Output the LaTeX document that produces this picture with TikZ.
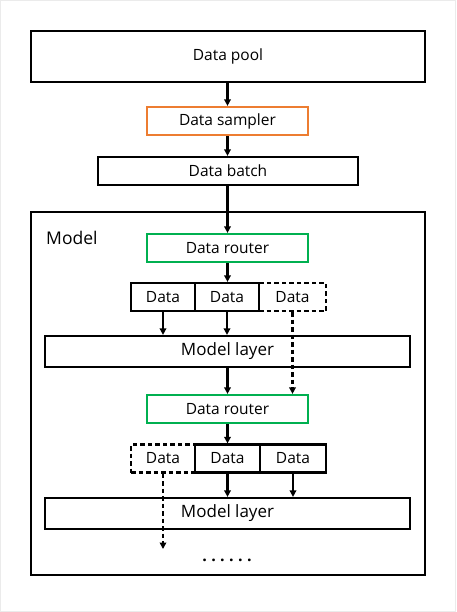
\documentclass[tikz,border=0pt]{standalone}
\usepackage{fontspec}
\setmainfont{Open Sans}
\usetikzlibrary{arrows.meta}
\definecolor{orangeb}{HTML}{ED7D31}
\definecolor{greenb}{HTML}{00B050}
\begin{document}
\begin{tikzpicture}[x=1pt,y=-1pt,
  box/.style={draw=black,line width=2.2pt,inner sep=0pt,font=\fontsize{15.5}{17}\selectfont},
  obox/.style={box,draw=orangeb},
  gbox/.style={box,draw=greenb},
  dbox/.style={box,dash pattern=on 4.5pt off 3pt},
  arr/.style={line width=2.2pt,-{Triangle[length=6.5pt,width=6.5pt]}},
  darr/.style={arr,dash pattern=on 4.5pt off 3pt}]
\useasboundingbox (0,0) rectangle (456,612);
\draw[draw=black!8,line width=1pt] (0.5,0.5) rectangle (455.5,611.5);
\node[box,minimum width=394pt,minimum height=51pt] (pool) at (228,56.5) {Data pool};
\node[obox,minimum width=161pt,minimum height=28pt] (sampler) at (227.5,121) {Data sampler};
\node[box,minimum width=260pt,minimum height=28pt] (batch) at (228,171) {Data batch};
\node[box,minimum width=394pt,minimum height=363pt] (model) at (228,393.5) {};
\node[font=\fontsize{17.5}{20}\selectfont,anchor=west,inner sep=0pt] (mlabel) at (46,238) {Model};
\node[gbox,minimum width=161pt,minimum height=28pt] (router1) at (227.5,248) {Data router};
\node[box,minimum width=64pt,minimum height=28pt] (d11) at (163,297) {Data};
\node[box,minimum width=64pt,minimum height=28pt] (d12) at (227,297) {Data};
\node[dbox,minimum width=67pt,minimum height=28pt] (d13) at (292.5,297) {Data};
\node[box,minimum width=365pt,minimum height=31pt,font=\fontsize{17}{19}\selectfont] (layer1) at (227.5,351.5) {Model layer};
\node[gbox,minimum width=161pt,minimum height=28pt] (router2) at (227.5,409) {Data router};
\node[dbox,minimum width=64pt,minimum height=28pt] (d21) at (163,458.5) {Data};
\node[box,minimum width=65pt,minimum height=28pt] (d22) at (227.5,458.5) {Data};
\node[box,minimum width=66pt,minimum height=28pt] (d23) at (293,458.5) {Data};
\node[box,minimum width=365pt,minimum height=31pt,font=\fontsize{17}{19}\selectfont] (layer2) at (227.5,513.5) {Model layer};
\coordinate (end) at (163,549);
\node[font=\bfseries\fontsize{16}{18}\selectfont,inner sep=0pt] (dots) at (227,560) {.\kern4.4pt.\kern4.4pt.\kern4.4pt.\kern4.4pt.\kern4.4pt.};
\draw[arr] (pool.south -| sampler.north) -- (sampler.north);
\draw[arr] (sampler.south) -- (sampler.south |- batch.north);
\draw[arr] (batch.south -| router1.north) -- (router1.north);
\draw[arr] (router1.south) -- (router1.south |- d12.north);
\draw[arr] (d11.south) -- (d11.south |- layer1.north);
\draw[arr] (d12.south) -- (d12.south |- layer1.north);
\draw[darr] (d13.south) -- (d13.south |- router2.north);
\draw[arr] (layer1.south) -- (router2.north);
\draw[arr] (router2.south) -- (router2.south |- d22.north);
\draw[arr] (d22.south) -- (d22.south |- layer2.north);
\draw[arr] (d23.south) -- (d23.south |- layer2.north);
\draw[darr] (d21.south) -- (end);
\end{tikzpicture}
\end{document}
